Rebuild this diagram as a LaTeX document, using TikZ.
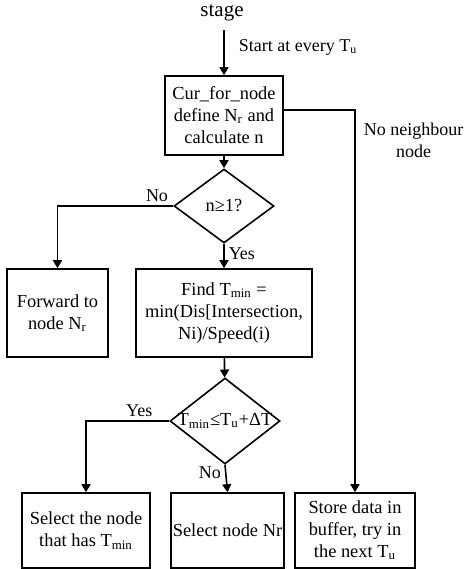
\documentclass[tikz,border=0pt]{standalone}
\usepackage{fontspec}
\setmainfont{Liberation Serif}
\usetikzlibrary{arrows.meta,positioning,shapes.geometric}

\begin{document}
\begin{tikzpicture}[x=0.5pt, y=-0.5pt,
    box/.style={rectangle, draw, line width=0.8pt, align=center, inner sep=1pt,
                font=\fontsize{9.2}{11}\selectfont},
    dec/.style={diamond, draw, line width=0.8pt, inner sep=0pt},
    flow/.style={-{Triangle[length=4pt, width=4.5pt]}, line width=0.8pt},
    note/.style={font=\fontsize{9}{11}\selectfont, inner sep=2pt},
  ]
  \useasboundingbox (0,0) rectangle (465,569);

  % Start
  \node[note, font=\fontsize{10.5}{12}\selectfont] (stage) at (222,13) {stage};

  % Current node
  \node[box, minimum width=59pt, minimum height=39.5pt] (cur) at (224,115.5)
    {Cur\_for\_node\\define N\textsubscript{r} and\\calculate n};

  % n >= 1 ?
  \node[dec, minimum width=50pt, minimum height=37pt,
        label={[box, draw=none]center:n≥1?}] (d1) at (224,206) {};

  % Forward
  \node[box, minimum width=50.5pt, minimum height=44pt] (fwd) at (57.5,313)
    {Forward to\\node N\textsubscript{r}};

  % Find Tmin
  \node[box, minimum width=88pt, minimum height=44pt] (find) at (224,313)
    {Find T\textsubscript{min} =\\min(Dis[Intersection,\\Ni)/Speed(i)};

  % Tmin <= Tu + dT ?
  \node[dec, minimum width=55pt, minimum height=43pt,
        label={[box, draw=none]center:T\textsubscript{min}≤T\textsubscript{u}+ΔT}] (d2) at (225,421) {};

  % Results
  \node[box, minimum width=64pt, minimum height=37.5pt] (sel1) at (86,530.5)
    {Select the node\\that has T\textsubscript{min}};
  \node[box, minimum width=56.5pt, minimum height=37.5pt] (sel2) at (227.5,530.5)
    {Select node Nr};
  \node[box, minimum width=60pt, minimum height=37.5pt] (store) at (355,530.5)
    {Store data in\\buffer, try in\\the next T\textsubscript{u}};

  % Arrows
  \draw[flow, shorten <=2pt] (stage.south -| cur.north) -- node[note, right=5pt, pos=0.45]
    {Start at every T\textsubscript{u}} (cur.north);
  \draw[flow] (cur) -- (d1);
  \draw[flow] ([yshift=2.75pt]cur.east) -| node[note, right=2pt, pos=0.54, align=center]
    {No neighbour\\node} (store.north);

  \draw[flow] (d1.west) -| node[note, above, pos=0.07] {No} (fwd.north);
  \draw[flow] (d1.south) -- node[note, right, pos=0.4] {Yes} (find.north);

  \draw[flow] (find) -- (d2);
  \draw[flow] (d2.west) -| node[note, above, pos=0.18] {Yes} (sel1.north);
  \draw[flow] (d2.south) -- node[note, left, pos=0.3] {No} (sel2.north);
\end{tikzpicture}
\end{document}
